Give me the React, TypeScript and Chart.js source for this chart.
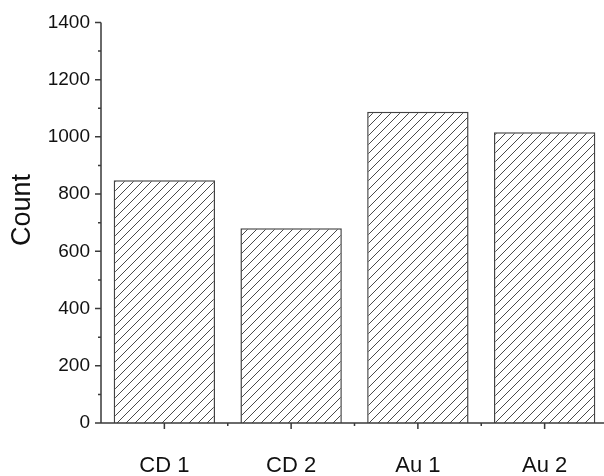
import React, { useEffect, useRef } from "react";
import { Chart, registerables } from "chart.js";

Chart.register(...registerables);

const categories = ["CD 1", "CD 2", "Au 1", "Au 2"];
const counts = [848, 681, 1088, 1016];
const yMin = 0;
const yMax = 1400;
const yMajorStep = 200;
const yMinorStep = 100;
const yAxisTitle = "Count";

function makeHatch(): CanvasPattern | string {
  const s = 9;
  const c = document.createElement("canvas");
  c.width = s;
  c.height = s;
  const g = c.getContext("2d");
  if (!g) return "#fff";
  g.fillStyle = "#ffffff";
  g.fillRect(0, 0, s, s);
  g.strokeStyle = "#4a4a4a";
  g.lineWidth = 1;
  g.beginPath();
  g.moveTo(-1, s + 1);
  g.lineTo(s + 1, -1);
  g.moveTo(-1, 1);
  g.lineTo(1, -1);
  g.moveTo(s - 1, s + 1);
  g.lineTo(s + 1, s - 1);
  g.stroke();
  return g.createPattern(c, "repeat") || "#fff";
}

const axesPlugin = {
  id: "originAxes",
  afterDraw(chart: any) {
    const { ctx, chartArea, scales } = chart;
    const x = scales.x;
    const y = scales.y;
    const left = chartArea.left;
    const bottom = y.getPixelForValue(yMin);
    const top = y.getPixelForValue(yMax);
    ctx.save();
    ctx.strokeStyle = "#3a3a3a";
    ctx.lineWidth = 1.5;
    ctx.beginPath();
    ctx.moveTo(left, top);
    ctx.lineTo(left, bottom);
    ctx.moveTo(left - 2, bottom);
    ctx.lineTo(chartArea.right, bottom);
    for (let v = yMin; v <= yMax; v += yMinorStep) {
      const py = y.getPixelForValue(v);
      const len = v % yMajorStep === 0 ? 6 : 3;
      ctx.moveTo(left - len, py);
      ctx.lineTo(left, py);
    }
    for (let i = 0; i < categories.length; i++) {
      const px = x.getPixelForValue(i);
      ctx.moveTo(px, bottom);
      ctx.lineTo(px, bottom + 6);
      if (i < categories.length - 1) {
        const mid = (px + x.getPixelForValue(i + 1)) / 2;
        ctx.moveTo(mid, bottom);
        ctx.lineTo(mid, bottom + 3);
      }
    }
    ctx.stroke();
    // axis title
    ctx.fillStyle = "#111";
    ctx.font = "27px Arial, 'Liberation Sans', sans-serif";
    ctx.textAlign = "center";
    ctx.textBaseline = "middle";
    ctx.translate(23, 210);
    ctx.rotate(-Math.PI / 2);
    ctx.fillText(yAxisTitle, 0, 0);
    ctx.restore();
  },
};

export default function App() {
  const ref = useRef<HTMLCanvasElement | null>(null);
  useEffect(() => {
    if (!ref.current) return;
    const chart = new Chart(ref.current, {
      type: "bar",
      data: {
        labels: categories,
        datasets: [
          {
            data: counts,
            backgroundColor: makeHatch() as any,
            borderColor: "#444",
            borderWidth: 1.5,
            barPercentage: 0.8,
            categoryPercentage: 1,
          },
        ],
      },
      options: {
        animation: false,
        responsive: false,
        maintainAspectRatio: false,
        devicePixelRatio: 1,
        layout: { padding: { top: 20, right: 12, bottom: 0, left: 0 } },
        plugins: { legend: { display: false }, tooltip: { enabled: false } },
        font: { family: "Arial, 'Liberation Sans', sans-serif" },
        scales: {
          x: {
            grid: { display: false, drawTicks: false, tickLength: 0 },
            border: { display: false },
            ticks: {
              padding: 30,
              color: "#111",
              font: { size: 22, family: "Arial, 'Liberation Sans', sans-serif" },
            },
            afterFit: (s: any) => {
              s.height = 53;
            },
          },
          y: {
            min: yMin,
            max: yMax,
            grid: { display: false, drawTicks: false, tickLength: 0 },
            border: { display: false },
            ticks: {
              stepSize: yMajorStep,
              padding: 11,
              color: "#111",
              font: { size: 19, family: "Arial, 'Liberation Sans', sans-serif" },
              callback: (v: any) => String(v),
            },
            afterFit: (s: any) => {
              s.width = 101;
            },
          },
        },
      } as any,
      plugins: [axesPlugin],
    });
    return () => chart.destroy();
  }, []);
  return (
    <div
      style={{
        position: "absolute",
        left: 0,
        top: 0,
        width: 604,
        height: 476,
        overflow: "hidden",
        background: "#fff",
      }}
    >
      <canvas ref={ref} width={620} height={476} style={{ width: 620, height: 476 }} />
    </div>
  );
}
